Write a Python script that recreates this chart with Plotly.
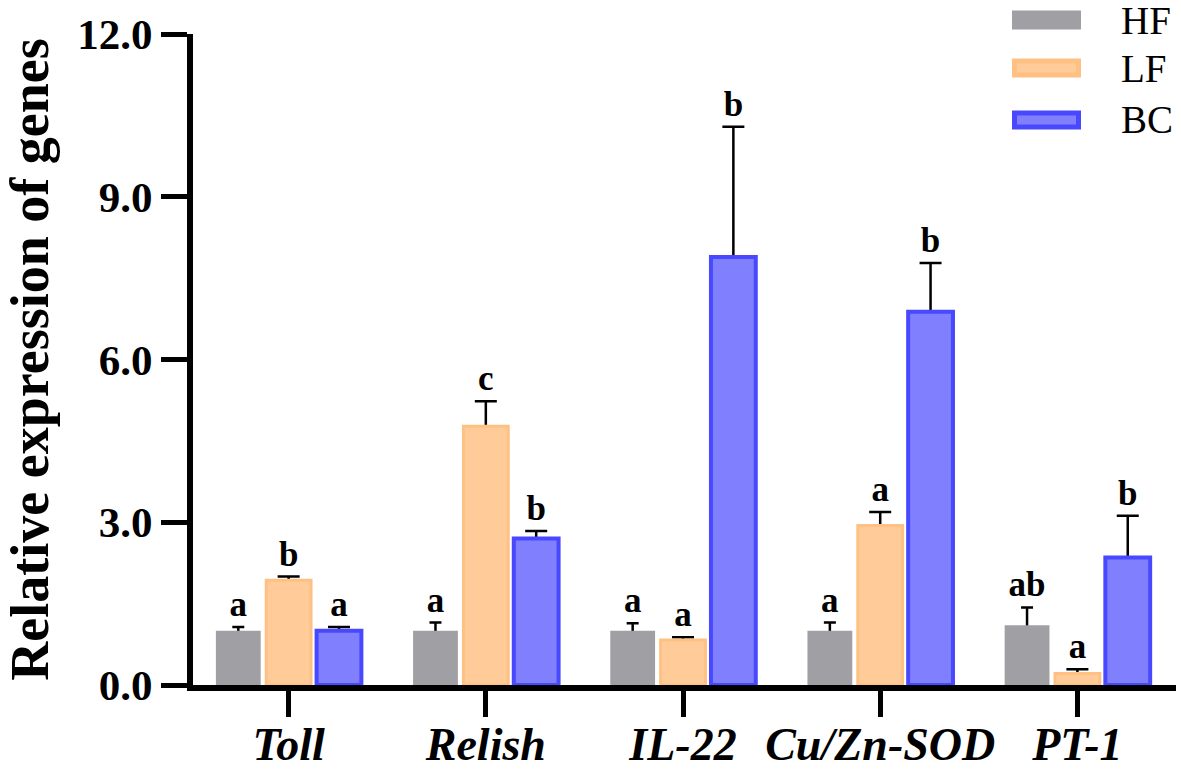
import plotly.graph_objects as go

# genes on the x axis
genes = ["Toll", "Relish", "IL-22", "Cu/Zn-SOD", "PT-1"]
groups = ["HF", "LF", "BC"]

# mean relative expression and SD (upper error only)
hf = [1.00, 1.00, 1.00, 1.00, 1.10]
hf_err = [0.07, 0.15, 0.14, 0.15, 0.33]
lf = [1.93, 4.77, 0.83, 2.94, 0.21]
lf_err = [0.07, 0.46, 0.05, 0.25, 0.08]
bc = [1.00, 2.70, 7.89, 6.88, 2.35]
bc_err = [0.07, 0.14, 2.40, 0.90, 0.77]

# significance letters
hf_letters = ["a", "a", "a", "a", "ab"]
lf_letters = ["b", "c", "a", "a", "a"]
bc_letters = ["a", "b", "b", "b", "b"]

y_ticks = [0, 3, 6, 9, 12]

W, H = 1181, 770
ML, MR, MT, MB = 193, 5, 34, 85

fills = ["#A0A0A4", "#FFCC99", "#8080FF"]
edges = ["#A0A0A4", "#FFC083", "#4848FF"]
edge_w = [0, 3, 4]
cap_w = [6, 11, 11]
FONT = "Liberation Serif"

fig = go.Figure()

series = [
    (hf, hf_err, hf_letters),
    (lf, lf_err, lf_letters),
    (bc, bc_err, bc_letters),
]

# error bars + letters sit on an invisible bar reaching mean+SD,
# drawn first so the real bars hide the lower end of the whisker
for k, (vals, errs, letters) in enumerate(series):
    tops = [v + e for v, e in zip(vals, errs)]
    fig.add_trace(go.Bar(
        x=genes, y=tops,
        offsetgroup=str(k),
        marker=dict(color="rgba(0,0,0,0)", line=dict(width=0)),
        error_y=dict(type="data", symmetric=False,
                     array=[0] * len(vals),
                     arrayminus=[e + 0.06 for e in errs],
                     color="black", thickness=2.5, width=cap_w[k]),
        text=letters, textposition="outside", constraintext="none",
        textfont=dict(family=FONT, size=35, color="black", weight="bold"),
        cliponaxis=False, showlegend=False, hoverinfo="skip",
    ))

for k, (vals, errs, letters) in enumerate(series):
    fig.add_trace(go.Bar(
        x=genes, y=vals, name=groups[k],
        offsetgroup=str(k),
        marker=dict(color=fills[k], line=dict(color=edges[k], width=edge_w[k])),
        showlegend=False,
    ))

# legend drawn by hand so the swatches are wide like the original
pw = W - ML - MR
ph = H - MT - MB


def px_x(px):
    return (px - ML) / pw


def px_y(py):
    return (H - MB - py) / ph


legend_rows = [20, 68, 120]
for k, name in enumerate(groups):
    yc = legend_rows[k]
    lw = [0, 5, 5][k]
    fig.add_shape(type="rect", xref="paper", yref="paper",
                  x0=px_x(1012 + lw / 2), x1=px_x(1081 - lw / 2),
                  y0=px_y(yc + 9.5 - lw / 2), y1=px_y(yc - 9.5 + lw / 2),
                  fillcolor=fills[k],
                  line=dict(color=edges[k], width=lw))
    fig.add_annotation(xref="paper", yref="paper", x=px_x(1119), y=px_y(yc),
                       text=name, showarrow=False, xanchor="left", yanchor="middle",
                       font=dict(family=FONT, size=39, color="black"))

fig.update_layout(
    width=W, height=H,
    margin=dict(l=ML, r=MR, t=MT, b=MB),
    paper_bgcolor="white", plot_bgcolor="white",
    barmode="group", bargap=0.234, bargroupgap=0.11,
    showlegend=False,
    font=dict(family=FONT, color="black"),
)

fig.update_xaxes(
    range=[-0.485, 4.5], automargin=False,
    showline=True, linecolor="black", linewidth=6,
    ticks="outside", ticklen=26, tickwidth=5, tickcolor="black",
    tickfont=dict(family=FONT, size=46, color="black", weight="bold", style="italic"),
    ticklabelstandoff=-12,
    showgrid=False, zeroline=False,
)

fig.update_yaxes(
    range=[0, 12], tickvals=y_ticks, tickformat=".1f", automargin=False,
    showline=True, linecolor="black", linewidth=6,
    ticks="outside", ticklen=26, tickwidth=5, tickcolor="black",
    tickfont=dict(family=FONT, size=43, color="black", weight="bold"),
    ticklabelstandoff=0,
    title=dict(text="Relative expression of genes", standoff=15,
               font=dict(family=FONT, size=54, color="black", weight="bold")),
    showgrid=False, zeroline=False,
)

fig.write_html("out.html", config={"displayModeBar": False},
               post_script="document.body.style.margin='0';document.body.style.overflow='hidden';")
